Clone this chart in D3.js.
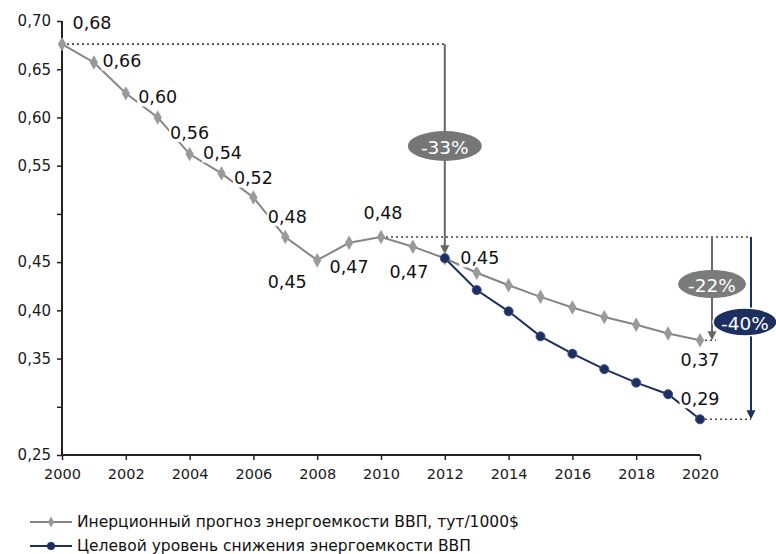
<!DOCTYPE html>
<html>
<head>
<meta charset="utf-8">
<script src="https://cdn.jsdelivr.net/npm/d3@7"></script>
<style>
  html, body { margin: 0; padding: 0; background: #fff; }
  svg { display: block; font-family: "DejaVu Sans", sans-serif; }
</style>
</head>
<body>
<svg id="chart" width="776" height="554"></svg>
<script>
// Energy intensity of GDP, 2000–2020
const years = d3.range(2000, 2021);
const inertialValues = [0.676, 0.657, 0.625, 0.600, 0.562, 0.542, 0.517, 0.476, 0.452, 0.470,
                        0.476, 0.466, 0.454, 0.439, 0.426, 0.414, 0.403, 0.393, 0.385, 0.376, 0.369];
const targetYears = d3.range(2012, 2021);
const targetValues = [0.454, 0.421, 0.399, 0.373, 0.355, 0.339, 0.325, 0.313, 0.287];
const yTicks = [0.25, 0.30, 0.35, 0.40, 0.45, 0.50, 0.55, 0.60, 0.65, 0.70];
const yTickLabelsHidden = [0.30, 0.50];
const xTicks = d3.range(2000, 2021, 2);
const labeledInertialYears = [2000, 2001, 2003, 2004, 2005, 2006, 2007, 2008, 2009, 2010, 2011, 2012, 2020];
const labeledTargetYears = [2020];
const changeLabels = ["-33%", "-22%", "-40%"];
const legendLabels = [
  "Инерционный прогноз энергоемкости ВВП, тут/1000$",
  "Целевой уровень снижения энергоемкости ВВП"
];

const GRAY_LINE = "#858585", GRAY_MARK = "#9a9a9a", NAVY = "#1d2f5f", AXIS = "#222";
const FONT = '"DejaVu Sans", sans-serif';
const fmt = v => d3.format(".2f")(v).replace(".", ",");

const svg = d3.select("#chart");
const x = d3.scaleLinear().domain([2000, 2020]).range([62, 700]);
const y = d3.scaleLinear().domain([0.25, 0.70]).range([455, 21]);

// Axes
const yAxis = svg.append("g").attr("transform", `translate(${x(2000)},0)`)
  .call(d3.axisLeft(y).tickValues(yTicks).tickSize(5).tickPadding(6)
    .tickFormat(v => yTickLabelsHidden.some(h => Math.abs(h - v) < 1e-9) ? "" : fmt(v)));
const xAxis = svg.append("g").attr("transform", `translate(0,${y(0.25)})`)
  .call(d3.axisBottom(x).tickValues(xTicks).tickSize(5).tickPadding(9).tickFormat(d3.format("d")));
[yAxis, xAxis].forEach(g => {
  g.attr("font-family", FONT);
  g.select(".domain").attr("stroke", AXIS).attr("stroke-width", 2);
  g.selectAll(".tick line").attr("stroke", AXIS).attr("stroke-width", 1.5);
  g.selectAll(".tick text").attr("fill", "#1a1a1a");
});
yAxis.attr("font-size", 15);
xAxis.attr("font-size", 14.5);
yAxis.select(".domain").attr("d", `M0,${y(0.70)}V${y(0.25)}`);
xAxis.select(".domain").attr("d", `M${x(2000)},0H${x(2020)}`);

// Dotted guide lines
const guides = svg.append("g").attr("stroke", "#444").attr("stroke-width", 1.6)
  .attr("stroke-dasharray", "2,3").attr("fill", "none");
const v = yr => inertialValues[years.indexOf(yr)];
const tv = yr => targetValues[targetYears.indexOf(yr)];
const xA = x(2020) + 12, xB = x(2020) + 51;
guides.append("line").attr("x1", x(2000)).attr("x2", x(2012)).attr("y1", y(v(2000))).attr("y2", y(v(2000)));
guides.append("line").attr("x1", x(2010)).attr("x2", xB).attr("y1", y(v(2010))).attr("y2", y(v(2010)));
guides.append("line").attr("x1", x(2020)).attr("x2", xA + 4).attr("y1", y(v(2020))).attr("y2", y(v(2020)));
guides.append("line").attr("x1", x(2020)).attr("x2", xB).attr("y1", y(tv(2020))).attr("y2", y(tv(2020)));

// Arrows showing the reductions
function arrow(xp, y1, y2, color) {
  svg.append("line").attr("x1", xp).attr("x2", xp).attr("y1", y1).attr("y2", y2 - 6)
    .attr("stroke", color).attr("stroke-width", 2);
  svg.append("path").attr("d", `M${xp - 4.5},${y2 - 9}L${xp + 4.5},${y2 - 9}L${xp},${y2}Z`)
    .attr("fill", color);
}
arrow(x(2012), y(v(2000)), y(v(2012)) - 4, "#666");
arrow(xA, y(v(2010)), y(v(2020)), "#666");
arrow(xB, y(v(2010)), y(tv(2020)), NAVY);

// Series lines
const line = d3.line().x(d => x(d[0])).y(d => y(d[1]));
svg.append("path").datum(d3.zip(years, inertialValues)).attr("d", line)
  .attr("fill", "none").attr("stroke", GRAY_LINE).attr("stroke-width", 2);
svg.append("path").datum(d3.zip(targetYears, targetValues)).attr("d", line)
  .attr("fill", "none").attr("stroke", NAVY).attr("stroke-width", 2);

// Markers
svg.append("g").selectAll("path").data(d3.zip(years, inertialValues)).join("path")
  .attr("transform", d => `translate(${x(d[0])},${y(d[1])})`)
  .attr("d", d3.symbol(d3.symbolDiamond, 60)).attr("fill", GRAY_MARK);
svg.append("g").selectAll("circle").data(d3.zip(targetYears, targetValues)).join("circle")
  .attr("cx", d => x(d[0])).attr("cy", d => y(d[1])).attr("r", 4.5)
  .attr("fill", NAVY).attr("stroke", "#3a4f86").attr("stroke-width", 1);

// Value labels on white boxes
const labelOffsets = {
  2000: [30, -21], 2001: [28, -1], 2003: [0, -20], 2004: [0, -21], 2005: [1, -20],
  2006: [0, -19], 2007: [2, -20], 2008: [-30, 22], 2009: [0, 24], 2010: [2, -24],
  2011: [-4, 25], 2012: [35, 0], 2020: [0, 20]
};
const labelLayer = svg.append("g");
function valueLabel(cx, cy, text) {
  const g = labelLayer.append("g");
  const t = g.append("text").attr("x", cx).attr("y", cy).attr("text-anchor", "middle")
    .attr("dominant-baseline", "central").attr("font-size", 17.5).attr("fill", "#111").text(text);
  const b = t.node().getBBox();
  g.insert("rect", "text").attr("x", b.x - 1).attr("y", b.y + 2).attr("width", b.width + 2)
    .attr("height", b.height - 3).attr("fill", "#fff");
}
labeledInertialYears.forEach(yr => {
  const [dx, dy] = labelOffsets[yr];
  valueLabel(x(yr) + dx, y(v(yr)) + dy, fmt(v(yr)));
});
labeledTargetYears.forEach(yr => {
  valueLabel(x(yr), y(tv(yr)) - 20, fmt(tv(yr)));
});

// Reduction badges
function badge(cx, cy, rx, ry, fill, text, outline) {
  svg.append("ellipse").attr("cx", cx).attr("cy", cy).attr("rx", rx).attr("ry", ry)
    .attr("fill", fill).attr("stroke", outline || "none").attr("stroke-width", 1.5);
  svg.append("text").attr("x", cx).attr("y", cy + 1).attr("text-anchor", "middle")
    .attr("dominant-baseline", "central").attr("fill", "#fff").attr("font-size", 18.5).text(text);
}
badge(x(2012), 146, 37, 15, "#767676", changeLabels[0]);
badge(xA, 284, 34, 14, "#7b7b7b", changeLabels[1]);
badge(745, 322, 32, 14, NAVY, changeLabels[2], "#fff");

// Legend
const legend = svg.append("g").attr("transform", "translate(30,522)");
legendLabels.forEach((label, i) => {
  const g = legend.append("g").attr("transform", `translate(0,${i * 24})`);
  g.append("line").attr("x1", 0).attr("x2", 42).attr("stroke", i ? NAVY : GRAY_LINE).attr("stroke-width", 2);
  if (i) g.append("circle").attr("cx", 21).attr("r", 4).attr("fill", NAVY);
  else g.append("path").attr("transform", "translate(21,0)").attr("d", d3.symbol(d3.symbolDiamond, 35)).attr("fill", GRAY_MARK);
  g.append("text").attr("x", 47).attr("dominant-baseline", "central").attr("fill", "#111")
    .attr("font-size", 15.5).text(label);
});
</script>
</body>
</html>
